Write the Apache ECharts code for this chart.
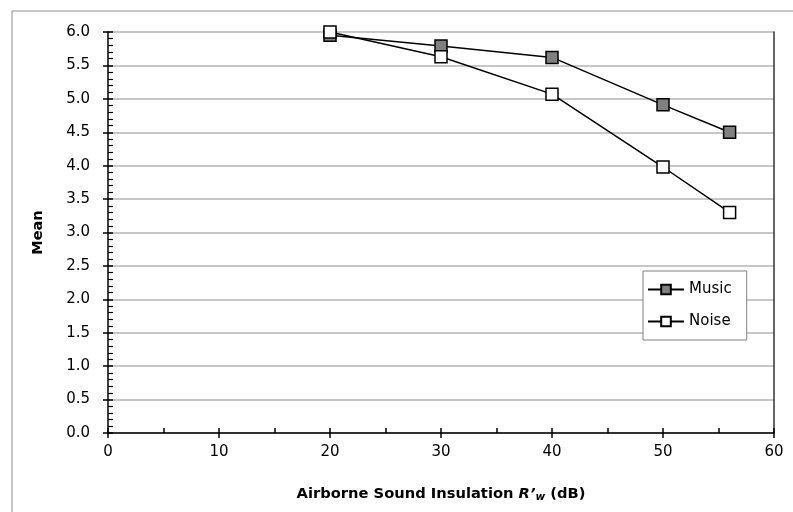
<!DOCTYPE html>
<html>
<head>
<meta charset="utf-8">
<script src="https://cdn.jsdelivr.net/npm/echarts@6/dist/echarts.min.js"></script>
<style>
  html, body { margin: 0; padding: 0; background: #fff; }
  #chart { width: 793px; height: 512px; }
</style>
</head>
<body>
<div id="chart"></div>
<script>
// Airborne sound insulation (dB) vs mean rating
var insulation = [20, 30, 40, 50, 56];
var musicMean = [5.95, 5.79, 5.62, 4.91, 4.50];
var noiseMean = [6.00, 5.63, 5.07, 3.98, 3.30];
var seriesNames = ['Music', 'Noise'];

var font = '"DejaVu Sans", Verdana, sans-serif';

function pairs(ys) {
    return insulation.map(function (x, i) { return [x, ys[i]]; });
}

var myChart = echarts.init(document.getElementById('chart'));

var option = {
    backgroundColor: '#fff',
    animation: false,
    textStyle: { fontFamily: font, color: '#000' },
    grid: { left: 108, right: 19, top: 32, bottom: 79 },
    graphic: [{
        type: 'rect',
        shape: { x: 12, y: 11, width: 800, height: 520 },
        style: { fill: 'none', stroke: '#8c8c8c', lineWidth: 1 },
        z: -1
    }],
    legend: {
        orient: 'vertical',
        left: 643,
        top: 271,
        data: seriesNames,
        backgroundColor: '#fff',
        borderColor: '#7f7f7f',
        borderWidth: 1,
        borderRadius: 0,
        padding: [11, 15, 11, 4],
        itemGap: 17,
        itemWidth: 36,
        itemHeight: 12,
        textStyle: { fontFamily: font, fontSize: 15, color: '#000', padding: [0, 0, 0, 0] }
    },
    xAxis: [{
        type: 'value',
        min: 0,
        max: 60,
        interval: 10,
        position: 'bottom',
        axisLine: { lineStyle: { color: '#000', width: 1.5 } },
        axisTick: { show: true, inside: false, length: 5, lineStyle: { color: '#000', width: 1.5 } },
        axisLabel: { fontFamily: font, fontSize: 15, color: '#000', margin: 12 },
        splitLine: { show: false },
        name: '{n|Airborne Sound Insulation }{r|R\u2019}{w|w}{n| (dB)}',
        nameLocation: 'middle',
        nameGap: 53,
        nameTextStyle: {
            rich: {
                n: { fontFamily: font, fontSize: 14.7, fontWeight: 'bold', color: '#000' },
                r: { fontFamily: font, fontSize: 14.7, fontWeight: 'bold', fontStyle: 'italic', color: '#000' },
                w: { fontFamily: font, fontSize: 10.5, fontWeight: 'bold', fontStyle: 'italic', color: '#000', verticalAlign: 'bottom', padding: [6, 0, 0, 0] }
            }
        }
    }, {
        type: 'value',
        min: 0,
        max: 60,
        interval: 10,
        position: 'bottom',
        axisLine: { show: false },
        axisTick: { show: true, inside: true, length: 5, lineStyle: { color: '#000', width: 1.5 } },
        minorTick: { show: true, splitNumber: 2, length: 5, lineStyle: { color: '#000', width: 1.5 } },
        axisLabel: { show: false },
        splitLine: { show: false }
    }],
    yAxis: [{
        type: 'value',
        min: 0,
        max: 6,
        interval: 0.5,
        position: 'left',
        axisLine: { show: true, lineStyle: { color: '#000', width: 1.5 } },
        axisTick: { show: true, inside: false, length: 5, lineStyle: { color: '#000', width: 1.5 } },
        axisLabel: {
            fontFamily: font, fontSize: 15, color: '#000', margin: 18,
            formatter: function (v) { return v.toFixed(1); }
        },
        splitLine: { show: true, lineStyle: { color: '#b4b4b4', width: 1.5 } },
        name: 'Mean',
        nameLocation: 'middle',
        nameGap: 62,
        nameTextStyle: { fontFamily: font, fontSize: 14.5, fontWeight: 'bold', color: '#000' }
    }, {
        type: 'value',
        min: 0,
        max: 6,
        interval: 0.5,
        position: 'left',
        axisLine: { show: false },
        axisTick: { show: true, inside: true, length: 5, lineStyle: { color: '#000', width: 1.5 } },
        minorTick: { show: true, splitNumber: 5, length: 5, lineStyle: { color: '#000', width: 1.2 } },
        axisLabel: { show: false },
        splitLine: { show: false }
    }, {
        type: 'value',
        min: 0,
        max: 6,
        interval: 0.5,
        position: 'right',
        axisLine: { show: true, lineStyle: { color: '#333', width: 1.5 } },
        axisTick: { show: false },
        axisLabel: { show: false },
        splitLine: { show: false }
    }],
    series: [{
        name: seriesNames[0],
        type: 'line',
        data: pairs(musicMean),
        symbol: 'rect',
        symbolSize: 12,
        lineStyle: { color: '#000', width: 1.5 },
        itemStyle: { color: '#808080', borderColor: '#000', borderWidth: 1.5 },
        z: 3
    }, {
        name: seriesNames[1],
        type: 'line',
        data: pairs(noiseMean),
        symbol: 'rect',
        symbolSize: 12,
        lineStyle: { color: '#000', width: 1.5 },
        itemStyle: { color: '#fff', borderColor: '#000', borderWidth: 1.5 },
        z: 4
    }]
};

myChart.setOption(option);
</script>
</body>
</html>
